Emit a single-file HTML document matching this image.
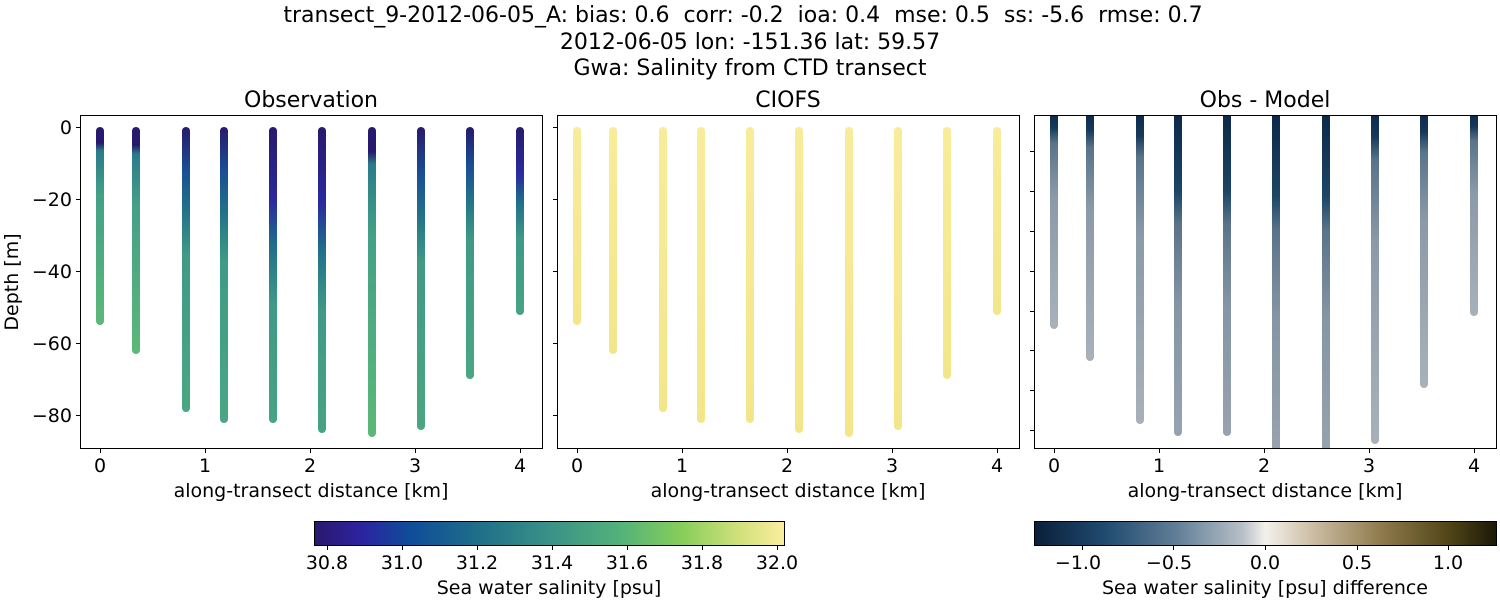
<!DOCTYPE html>
<html><head><meta charset="utf-8"><style>
html,body{margin:0;padding:0;background:#fff;}
svg text{font-family:"DejaVu Sans","Liberation Sans",sans-serif;fill:#000;}
</style></head><body>
<svg width="1500" height="600" viewBox="0 0 1500 600" xmlns="http://www.w3.org/2000/svg">
<defs>
<clipPath id="c3"><rect x="1034" y="115" width="463" height="334"/></clipPath>
<linearGradient id="hal" x1="0" x2="1" y1="0" y2="0">
<stop offset="0" stop-color="#2a186c"/><stop offset="0.1" stop-color="#2c23a0"/><stop offset="0.2" stop-color="#0f4c99"/>
<stop offset="0.35" stop-color="#1f6f8a"/><stop offset="0.5" stop-color="#3a9187"/><stop offset="0.65" stop-color="#53b27a"/>
<stop offset="0.78" stop-color="#86cd5a"/><stop offset="0.9" stop-color="#cfe07a"/><stop offset="1" stop-color="#fcee9f"/>
</linearGradient>
<linearGradient id="dif" x1="0" x2="1" y1="0" y2="0">
<stop offset="0" stop-color="#0a1f3a"/><stop offset="0.15" stop-color="#1f4a6e"/><stop offset="0.3" stop-color="#5d7b95"/>
<stop offset="0.45" stop-color="#b7bfc7"/><stop offset="0.5" stop-color="#f3f0ec"/><stop offset="0.6" stop-color="#cdbfa5"/>
<stop offset="0.75" stop-color="#8f7a4c"/><stop offset="0.9" stop-color="#4f4416"/><stop offset="1" stop-color="#1b1907"/>
</linearGradient>
<linearGradient id="oA" x1="0" x2="0" y1="0" y2="1">
<stop offset="0" stop-color="#271a6c"/><stop offset="0.08" stop-color="#271a6c"/><stop offset="0.12" stop-color="#2a7b8a"/><stop offset="0.35" stop-color="#44a086"/><stop offset="1" stop-color="#5cb878"/></linearGradient>
<linearGradient id="oB" x1="0" x2="0" y1="0" y2="1">
<stop offset="0" stop-color="#271a6c"/><stop offset="0.15" stop-color="#1a4d95"/><stop offset="0.3" stop-color="#227588"/><stop offset="0.45" stop-color="#3f9a86"/><stop offset="1" stop-color="#4aa781"/></linearGradient>
<linearGradient id="oC" x1="0" x2="0" y1="0" y2="1">
<stop offset="0" stop-color="#271a6c"/><stop offset="0.25" stop-color="#2a2a9e"/><stop offset="0.4" stop-color="#1f6f8a"/><stop offset="0.6" stop-color="#3f9a86"/><stop offset="1" stop-color="#47a383"/></linearGradient>
<linearGradient id="yel" x1="0" x2="0" y1="0" y2="1">
<stop offset="0" stop-color="#f8ec9a"/><stop offset="1" stop-color="#f3e68a"/></linearGradient>
<linearGradient id="dA" x1="0" x2="0" y1="0" y2="1">
<stop offset="0" stop-color="#0c2746"/><stop offset="0.08" stop-color="#15395a"/><stop offset="0.15" stop-color="#587389"/><stop offset="0.4" stop-color="#8b9aa8"/><stop offset="1" stop-color="#a8b1b9"/></linearGradient>
<linearGradient id="dB" x1="0" x2="0" y1="0" y2="1">
<stop offset="0" stop-color="#0c2746"/><stop offset="0.25" stop-color="#1c4566"/><stop offset="0.35" stop-color="#5a7389"/><stop offset="0.6" stop-color="#8595a4"/><stop offset="1" stop-color="#97a3ae"/></linearGradient>
</defs>

<text x="743" y="22" font-size="22" text-anchor="middle" xml:space="preserve">transect_9-2012-06-05_A: bias: 0.6  corr: -0.2  ioa: 0.4  mse: 0.5  ss: -5.6  rmse: 0.7</text>
<text x="750" y="49" font-size="22" text-anchor="middle">2012-06-05 lon: -151.36 lat: 59.57</text>
<text x="750" y="75" font-size="22" text-anchor="middle">Gwa: Salinity from CTD transect</text>

<text x="311" y="107" font-size="22" text-anchor="middle">Observation</text>
<text x="788" y="107" font-size="22" text-anchor="middle">CIOFS</text>
<text x="1265" y="107" font-size="22" text-anchor="middle">Obs - Model</text>

<g>
<rect x="96" y="127" width="8" height="198" rx="4" fill="url(#oA)"/>
<rect x="132" y="127" width="8" height="227" rx="4" fill="url(#oA)"/>
<rect x="182" y="127" width="8" height="285" rx="4" fill="url(#oB)"/>
<rect x="220" y="127" width="8" height="296" rx="4" fill="url(#oB)"/>
<rect x="269" y="127" width="8" height="296" rx="4" fill="url(#oC)"/>
<rect x="318" y="127" width="8" height="306" rx="4" fill="url(#oC)"/>
<rect x="368" y="127" width="8" height="310" rx="4" fill="url(#oA)"/>
<rect x="417" y="127" width="8" height="303" rx="4" fill="url(#oB)"/>
<rect x="466" y="127" width="8" height="252" rx="4" fill="url(#oB)"/>
<rect x="516" y="127" width="8" height="188" rx="4" fill="url(#oC)"/>
</g>
<rect x="80.5" y="115.5" width="462" height="333" fill="none" stroke="#000" stroke-width="1"/>

<g fill="url(#yel)">
<rect x="573" y="127" width="8" height="198" rx="4"/>
<rect x="609" y="127" width="8" height="227" rx="4"/>
<rect x="659" y="127" width="8" height="285" rx="4"/>
<rect x="697" y="127" width="8" height="296" rx="4"/>
<rect x="746" y="127" width="8" height="296" rx="4"/>
<rect x="795" y="127" width="8" height="306" rx="4"/>
<rect x="845" y="127" width="8" height="310" rx="4"/>
<rect x="894" y="127" width="8" height="303" rx="4"/>
<rect x="943" y="127" width="8" height="252" rx="4"/>
<rect x="993" y="127" width="8" height="188" rx="4"/>
</g>
<rect x="557.5" y="115.5" width="462" height="333" fill="none" stroke="#000" stroke-width="1"/>

<g clip-path="url(#c3)">
<rect x="1050" y="110" width="8" height="219" rx="4" fill="url(#dA)"/>
<rect x="1086" y="110" width="8" height="251" rx="4" fill="url(#dA)"/>
<rect x="1136" y="110" width="8" height="314" rx="4" fill="url(#dA)"/>
<rect x="1174" y="110" width="8" height="326" rx="4" fill="url(#dB)"/>
<rect x="1223" y="110" width="8" height="326" rx="4" fill="url(#dB)"/>
<rect x="1272" y="110" width="8" height="345" rx="4" fill="url(#dB)"/>
<rect x="1322" y="110" width="8" height="345" rx="4" fill="url(#dB)"/>
<rect x="1371" y="110" width="8" height="334" rx="4" fill="url(#dA)"/>
<rect x="1420" y="110" width="8" height="278" rx="4" fill="url(#dA)"/>
<rect x="1470" y="110" width="8" height="206" rx="4" fill="url(#dA)"/>
</g>
<rect x="1034.5" y="115.5" width="462" height="333" fill="none" stroke="#000" stroke-width="1"/>

<g stroke="#000" stroke-width="1">
<line x1="76" x2="80" y1="127.5" y2="127.5"/><line x1="76" x2="80" y1="199.5" y2="199.5"/><line x1="76" x2="80" y1="271.5" y2="271.5"/><line x1="76" x2="80" y1="343.5" y2="343.5"/><line x1="76" x2="80" y1="415.5" y2="415.5"/>
<line x1="553" x2="557" y1="127.5" y2="127.5"/><line x1="553" x2="557" y1="199.5" y2="199.5"/><line x1="553" x2="557" y1="271.5" y2="271.5"/><line x1="553" x2="557" y1="343.5" y2="343.5"/><line x1="553" x2="557" y1="415.5" y2="415.5"/>
<line x1="1030" x2="1034" y1="151.5" y2="151.5"/><line x1="1030" x2="1034" y1="191.5" y2="191.5"/><line x1="1030" x2="1034" y1="231.5" y2="231.5"/><line x1="1030" x2="1034" y1="271.5" y2="271.5"/><line x1="1030" x2="1034" y1="311.5" y2="311.5"/><line x1="1030" x2="1034" y1="350.5" y2="350.5"/><line x1="1030" x2="1034" y1="390.5" y2="390.5"/><line x1="1030" x2="1034" y1="430.5" y2="430.5"/>
</g>
<g font-size="19" text-anchor="end">
<text x="72" y="134">0</text><text x="72" y="206">−20</text><text x="72" y="278">−40</text><text x="72" y="350">−60</text><text x="72" y="422">−80</text>
</g>
<text transform="translate(18,282) rotate(-90)" font-size="19" text-anchor="middle">Depth [m]</text>

<g stroke="#000" stroke-width="1">
<line x1="100.5" x2="100.5" y1="449" y2="453"/><line x1="205.5" x2="205.5" y1="449" y2="453"/><line x1="310.5" x2="310.5" y1="449" y2="453"/><line x1="415.5" x2="415.5" y1="449" y2="453"/><line x1="520.5" x2="520.5" y1="449" y2="453"/>
<line x1="577.5" x2="577.5" y1="449" y2="453"/><line x1="682.5" x2="682.5" y1="449" y2="453"/><line x1="787.5" x2="787.5" y1="449" y2="453"/><line x1="892.5" x2="892.5" y1="449" y2="453"/><line x1="997.5" x2="997.5" y1="449" y2="453"/>
<line x1="1054.5" x2="1054.5" y1="449" y2="453"/><line x1="1159.5" x2="1159.5" y1="449" y2="453"/><line x1="1264.5" x2="1264.5" y1="449" y2="453"/><line x1="1369.5" x2="1369.5" y1="449" y2="453"/><line x1="1474.5" x2="1474.5" y1="449" y2="453"/>
</g>
<g font-size="19" text-anchor="middle">
<text x="100" y="472">0</text><text x="205" y="472">1</text><text x="310" y="472">2</text><text x="415" y="472">3</text><text x="520" y="472">4</text>
<text x="577" y="472">0</text><text x="682" y="472">1</text><text x="787" y="472">2</text><text x="892" y="472">3</text><text x="997" y="472">4</text>
<text x="1054" y="472">0</text><text x="1159" y="472">1</text><text x="1264" y="472">2</text><text x="1369" y="472">3</text><text x="1474" y="472">4</text>
<text x="311" y="497">along-transect distance [km]</text>
<text x="788" y="497">along-transect distance [km]</text>
<text x="1265" y="497">along-transect distance [km]</text>
</g>

<rect x="314.5" y="521.5" width="470" height="24" fill="url(#hal)" stroke="#000" stroke-width="1"/>
<g stroke="#000"><line x1="327.5" x2="327.5" y1="546" y2="550"/><line x1="402.5" x2="402.5" y1="546" y2="550"/><line x1="477.5" x2="477.5" y1="546" y2="550"/><line x1="552.5" x2="552.5" y1="546" y2="550"/><line x1="627.5" x2="627.5" y1="546" y2="550"/><line x1="702.5" x2="702.5" y1="546" y2="550"/><line x1="777.5" x2="777.5" y1="546" y2="550"/></g>
<g font-size="19" text-anchor="middle">
<text x="327" y="569">30.8</text><text x="402" y="569">31.0</text><text x="477" y="569">31.2</text><text x="552" y="569">31.4</text><text x="627" y="569">31.6</text><text x="702" y="569">31.8</text><text x="777" y="569">32.0</text>
<text x="549" y="594">Sea water salinity [psu]</text>
</g>
<rect x="1034.5" y="521.5" width="462" height="24" fill="url(#dif)" stroke="#000" stroke-width="1"/>
<g stroke="#000"><line x1="1082.5" x2="1082.5" y1="546" y2="550"/><line x1="1173.5" x2="1173.5" y1="546" y2="550"/><line x1="1265.5" x2="1265.5" y1="546" y2="550"/><line x1="1357.5" x2="1357.5" y1="546" y2="550"/><line x1="1448.5" x2="1448.5" y1="546" y2="550"/></g>
<g font-size="19" text-anchor="middle">
<text x="1078" y="569">−1.0</text><text x="1169" y="569">−0.5</text><text x="1265" y="569">0.0</text><text x="1357" y="569">0.5</text><text x="1448" y="569">1.0</text>
<text x="1265" y="594">Sea water salinity [psu] difference</text>
</g>
</svg>
</body></html>
